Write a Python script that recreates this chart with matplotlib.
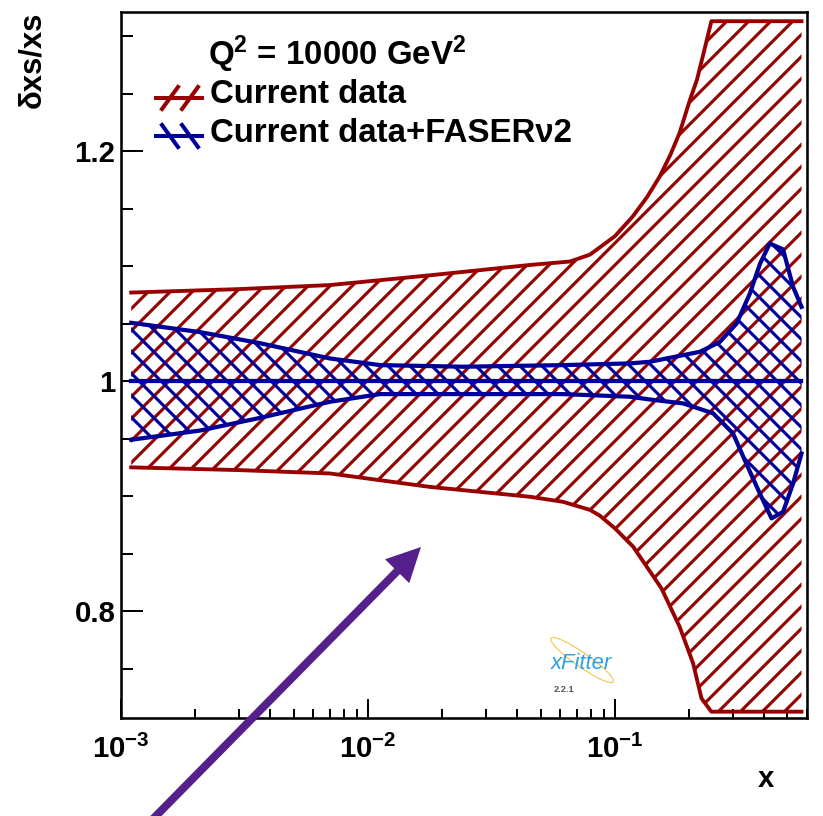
import math
import matplotlib
matplotlib.use("Agg")
import matplotlib.pyplot as plt
from matplotlib.patches import FancyArrow, Ellipse
from matplotlib.ticker import LogLocator, MultipleLocator, FuncFormatter, NullFormatter

# relative uncertainty bands, Q^2 = 10000 GeV^2
red_x_hi = [0.0011, 0.003, 0.007, 0.0178, 0.0453, 0.0658, 0.0793, 0.1, 0.118,
            0.135, 0.152, 0.168, 0.183, 0.201, 0.215, 0.228, 0.246, 0.57]
red_hi = [1.077, 1.080, 1.0835, 1.092, 1.101, 1.104, 1.110, 1.126, 1.143,
          1.160, 1.178, 1.197, 1.216, 1.244, 1.262, 1.284, 1.313, 1.313]
red_x_lo = [0.0011, 0.003, 0.007, 0.0178, 0.0453, 0.0617, 0.0793, 0.0869,
            0.1, 0.1186, 0.1545, 0.183, 0.2074, 0.2244, 0.246, 0.57]
red_lo = [0.925, 0.9226, 0.9197, 0.908, 0.8994, 0.895, 0.888, 0.883,
          0.872, 0.856, 0.8197, 0.7863, 0.7546, 0.724, 0.7125, 0.7125]

blue_x_hi = [0.0011, 0.00209, 0.00365, 0.00701, 0.0112, 0.0243, 0.0616, 0.1151,
             0.1387, 0.221, 0.266, 0.311, 0.352, 0.387, 0.424, 0.480, 0.527, 0.570]
blue_hi = [1.0507, 1.0426, 1.033, 1.0197, 1.0139, 1.0125, 1.0139, 1.0154,
           1.0168, 1.0255, 1.034, 1.050, 1.076, 1.102, 1.1197, 1.1145, 1.082, 1.0646]
blue_x_lo = [0.0011, 0.00209, 0.00365, 0.00701, 0.0112, 0.0243, 0.0616, 0.1151,
             0.1387, 0.189, 0.250, 0.301, 0.341, 0.387, 0.431, 0.480, 0.527, 0.570]
blue_lo = [0.949, 0.957, 0.968, 0.982, 0.9887, 0.9887, 0.9887, 0.9864,
           0.984, 0.9806, 0.972, 0.9545, 0.928, 0.902, 0.8806, 0.8863, 0.911, 0.937]

central_x = [0.0011, 0.570]
central = [1.0, 1.0]

legend_labels = ["Current data", "Current data+FASER\u03bd2"]

DPI = 132
W, H = 823, 816
RED = "#990000"
BLUE = "#000099"

plt.rcParams["font.family"] = ["Liberation Sans", "DejaVu Sans"]
plt.rcParams["font.weight"] = "bold"
plt.rcParams["mathtext.fontset"] = "custom"
plt.rcParams["mathtext.rm"] = "Liberation Sans:bold"
plt.rcParams["mathtext.it"] = "Liberation Sans:bold"
plt.rcParams["mathtext.bf"] = "Liberation Sans:bold"
plt.rcParams["mathtext.default"] = "rm"
plt.rcParams["hatch.linewidth"] = 1.7


def fxy(px, py):
    """pixel position (from top-left) -> figure fraction"""
    return px / W, 1 - py / H


fig = plt.figure(figsize=(W / DPI, H / DPI), dpi=DPI)
ax = fig.add_axes([121 / W, 1 - 718 / H, (807 - 121) / W, (718 - 12) / H])

# ---------- bands ----------
ax.fill(red_x_hi + red_x_lo[::-1], red_hi + red_lo[::-1],
        facecolor="none", edgecolor=RED, linewidth=0, hatch="//")
ax.plot(red_x_hi, red_hi, color=RED, lw=2.1, solid_joinstyle="round")
ax.plot(red_x_lo, red_lo, color=RED, lw=2.1, solid_joinstyle="round")
ax.plot(central_x, central, color=RED, lw=2.1)

ax.fill(blue_x_hi + blue_x_lo[::-1], blue_hi + blue_lo[::-1],
        facecolor="none", edgecolor=BLUE, linewidth=0, hatch="\\\\")
ax.plot(blue_x_hi, blue_hi, color=BLUE, lw=2.3, solid_joinstyle="round")
ax.plot(blue_x_lo, blue_lo, color=BLUE, lw=2.3, solid_joinstyle="round")
ax.plot(central_x, central, color=BLUE, lw=2.3)

# ---------- axes ----------
ax.set_xscale("log")
ax.set_xlim(1e-3, 0.6)
ax.set_ylim(0.707, 1.321)

ax.xaxis.set_major_locator(LogLocator(base=10, numticks=10))
ax.xaxis.set_minor_locator(LogLocator(base=10, subs=range(2, 10), numticks=20))
ax.xaxis.set_minor_formatter(NullFormatter())
ax.xaxis.set_major_formatter(
    FuncFormatter(lambda v, p: r"$10^{%d}$" % round(math.log10(v))))
ax.yaxis.set_major_locator(MultipleLocator(0.2))
ax.yaxis.set_minor_locator(MultipleLocator(0.05))
ax.yaxis.set_major_formatter(FuncFormatter(lambda v, p: "%g" % round(v, 2)))

ax.tick_params(which="both", direction="in", top=False, right=False,
               width=1.1, labelsize=16, colors="black")
ax.tick_params(axis="y", which="major", length=12, pad=3)
ax.tick_params(axis="y", which="minor", length=6.5)
ax.tick_params(axis="x", which="major", length=10.4, pad=9)
ax.tick_params(axis="x", which="minor", length=5)
for s in ax.spines.values():
    s.set_linewidth(1.4)

fig.text(*fxy(32, 12), "\u03b4xs/xs", rotation=90, ha="center", va="top",
         fontsize=17)
fig.text(*fxy(766, 787), "x", ha="center", va="baseline", fontsize=16)

# ---------- legend ----------
fig.text(*fxy(337, 65), r"Q$^2$ = 10000 GeV$^2$", ha="center",
         va="baseline", fontsize=18)
fig.text(*fxy(210, 103), legend_labels[0], ha="left", va="baseline",
         fontsize=18)
fig.text(*fxy(210, 142), legend_labels[1], ha="left", va="baseline",
         fontsize=18)


def legend_mark(ycen, color, slope):
    # hatch sample: two slanted strokes plus a horizontal line through them
    x0, x1 = 156, 202
    xs, ys = zip(fxy(x0, ycen), fxy(x1, ycen))
    fig.lines.append(plt.Line2D(xs, ys, color=color, lw=2.2,
                                transform=fig.transFigure))
    for xc in (170, 190):
        a = fxy(xc - 8, ycen + 11 * slope)
        b = fxy(xc + 8, ycen - 11 * slope)
        fig.lines.append(plt.Line2D([a[0], b[0]], [a[1], b[1]], color=color,
                                    lw=2.2, transform=fig.transFigure))


legend_mark(98, RED, 1)
legend_mark(136, BLUE, -1)

# ---------- xFitter logo ----------
fig.text(*fxy(581, 669), "xFitter", ha="center", va="baseline", fontsize=12,
         fontstyle="italic", fontweight="normal", color="#2e9fe0")
fig.text(*fxy(564, 692), "2.2.1", ha="center", va="baseline", fontsize=5,
         color="#555555")
orbit = Ellipse((582 / DPI, (H - 660) / DPI), 76 / DPI, 14 / DPI, angle=-35,
                transform=fig.dpi_scale_trans, facecolor="none",
                edgecolor="#f2c744", lw=0.6)
fig.add_artist(orbit)

# ---------- arrow ----------
x0, y0 = 150 / DPI, (H - 822) / DPI
x1, y1 = 421 / DPI, (H - 547) / DPI
arrow = FancyArrow(x0, y0, x1 - x0, y1 - y0, width=8 / DPI,
                   head_width=34 / DPI, head_length=34 / DPI,
                   length_includes_head=True, color="#551f8c", lw=0,
                   transform=fig.dpi_scale_trans)
fig.add_artist(arrow)

fig.savefig("out.png", dpi=DPI)
